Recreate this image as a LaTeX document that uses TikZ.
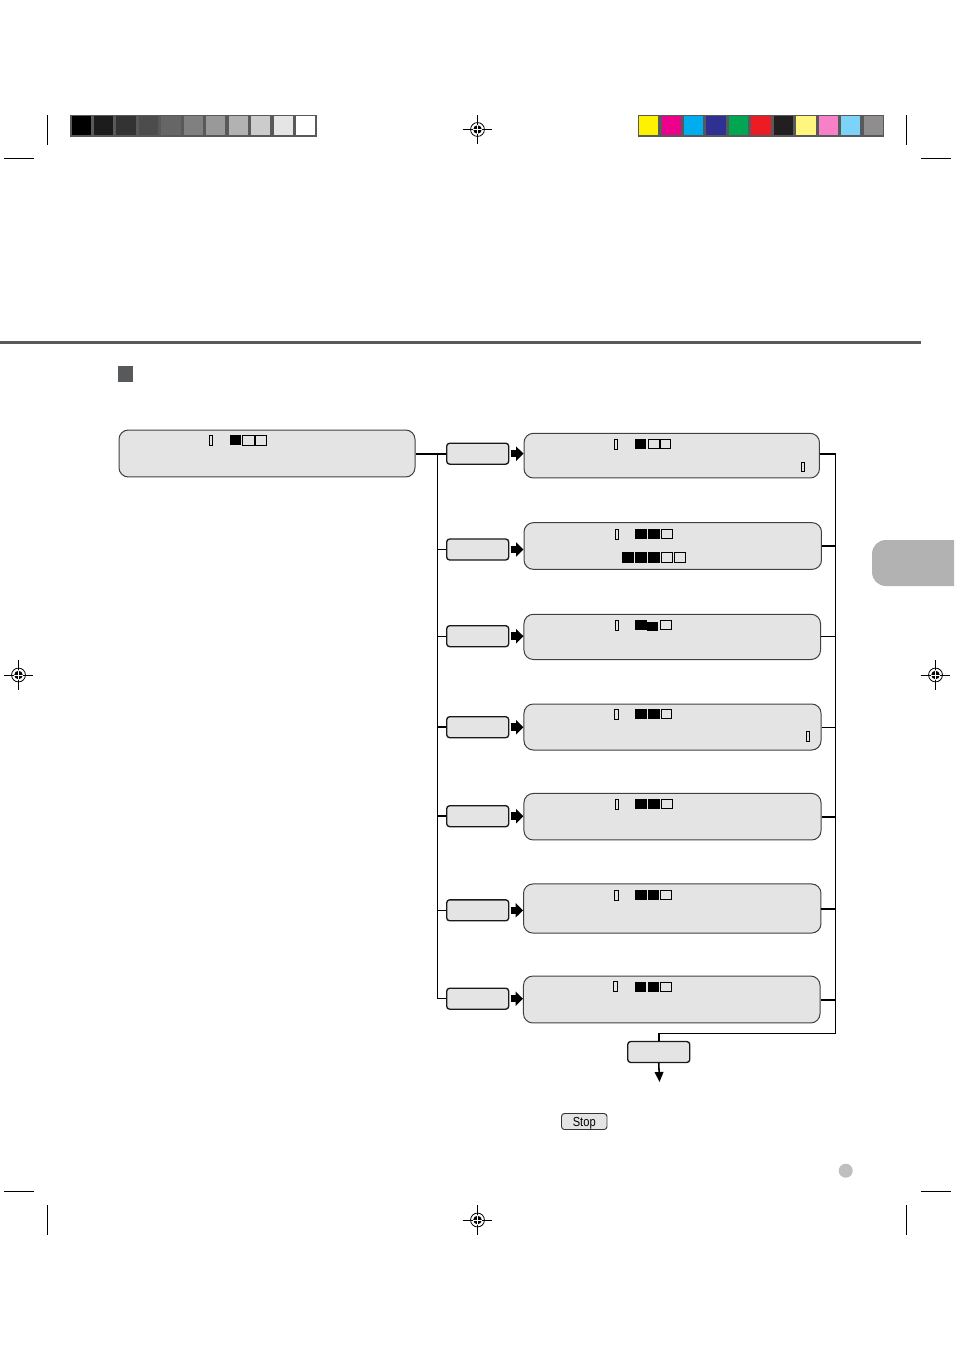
\documentclass[tikz,border=0pt]{standalone}
\usepackage{xcolor}
\usepackage{fontspec}
\usepackage{tikz}
\usetikzlibrary{arrows.meta}
\newfontfamily\keyfont[FakeStretch=0.85]{Liberation Sans}
\definecolor{frameGray}{HTML}{58595B}
\definecolor{panelGray}{HTML}{E4E4E4}
\definecolor{tabGray}{HTML}{B2B2B2}
\tikzset{
  screen/.style={draw=black!75,line width=0.75pt,fill=panelGray,rounded corners=7pt,inner sep=0pt},
  keybox/.style={draw=black!90,line width=1pt,fill=panelGray,rounded corners=2.2pt,inner sep=0pt,minimum width=46.5pt,minimum height=15.7pt},
  thinlink/.style={line width=0.7pt},
  trunklink/.style={line width=1.15pt},
  thicklink/.style={line width=1.5pt},
  keyarrow/.style={line width=5.6pt,shorten <=1.5pt,-{Triangle[length=5.5pt,width=10.5pt]}},
  cropline/.style={line width=0.75pt},
  cellon/.style={fill=black},
  celloff/.style={draw=black,line width=0.5pt},
  barmark/.style={draw=black,line width=0.65pt},
  regmark/.pic={
    \draw [line width=0.6pt] (0,0) circle (5.2pt);
    \fill (0,0) circle (3.2pt);
    \draw [white,line width=0.5pt] (-3.2pt,0) -- (3.2pt,0) (0,-3.2pt) -- (0,3.2pt);
    \draw [line width=0.7pt] (-11.2pt,0) -- (-3.4pt,0) (3.4pt,0) -- (11.2pt,0) (0,-11.2pt) -- (0,-3.4pt) (0,3.4pt) -- (0,11.2pt);
  }
}
\begin{document}
\begin{tikzpicture}[x=0.75pt,y=0.75pt,yscale=-1,xscale=1]
\useasboundingbox (0,0) rectangle (954,1351);
%Gray Scale Bar
\fill [frameGray] (70,114.7) rectangle (317,136.7);
\fill [black!100] (72,116) rectangle (91,135);
\fill [black!89] (94,116) rectangle (113,135);
\fill [black!80] (116,116) rectangle (136,135);
\fill [black!70] (139,116) rectangle (158,135);
\fill [black!60] (161,116) rectangle (181,135);
\fill [black!50] (184,116) rectangle (203,135);
\fill [black!40] (206,116) rectangle (225,135);
\fill [black!30] (229,116) rectangle (248,135);
\fill [black!20] (251,116) rectangle (270,135);
\fill [black!10] (274,116) rectangle (293,135);
\fill [white] (296,116) rectangle (315,135);
%Color Bar
\fill [frameGray] (638,114.7) rectangle (884,136.7);
\fill [fill={rgb,255:red,255;green,242;blue,0}] (639,116) rectangle (658,135);
\fill [fill={rgb,255:red,236;green,0;blue,140}] (662,116) rectangle (681,135);
\fill [fill={rgb,255:red,0;green,174;blue,239}] (684,116) rectangle (703,135);
\fill [fill={rgb,255:red,46;green,49;blue,146}] (706,116) rectangle (726,135);
\fill [fill={rgb,255:red,0;green,166;blue,81}] (729,116) rectangle (748,135);
\fill [fill={rgb,255:red,237;green,28;blue,36}] (751,116) rectangle (771,135);
\fill [fill={rgb,255:red,35;green,31;blue,32}] (774,116) rectangle (793,135);
\fill [fill={rgb,255:red,255;green,246;blue,128}] (796,116) rectangle (816,135);
\fill [fill={rgb,255:red,247;green,128;blue,199}] (819,116) rectangle (838,135);
\fill [fill={rgb,255:red,125;green,211;blue,247}] (841,116) rectangle (860,135);
\fill [fill={rgb,255:red,143;green,141;blue,142}] (864,116) rectangle (883,135);
%Crop Marks
\draw [cropline] (47,115) -- (47,145);
\draw [cropline] (4,158.5) -- (34,158.5);
\draw [cropline] (906.5,115) -- (906.5,145);
\draw [cropline] (921,158.5) -- (951,158.5);
\draw [cropline] (4,1191) -- (34,1191);
\draw [cropline] (47,1205) -- (47,1235);
\draw [cropline] (921,1191) -- (951,1191);
\draw [cropline] (906.5,1205) -- (906.5,1235);
%Registration Marks
\pic at (477.5,129.5) {regmark};
\pic at (477.5,1220) {regmark};
\pic at (18.5,675) {regmark};
\pic at (935.5,675) {regmark};
%Page Furniture
\draw [frameGray,line width=2.8pt] (0,342.5) -- (921,342.5);
\fill [frameGray] (118,366) rectangle (133,382);
\fill [tabGray] (954,540) -- (886,540) .. controls (878,540) and (872,546) .. (872,554) -- (872,572) .. controls (872,580) and (878,586) .. (886,586) -- (954,586) -- cycle;
\fill [black!25] (845.7,1170.7) circle (7);
% Screens
\node (start) [screen,minimum width=222pt,minimum height=35.2pt] at (267,453.5) {};
\node (scrA) [screen,minimum width=221.6pt,minimum height=33.5pt] at (671.75,455.65) {};
\node (scrB) [screen,minimum width=223.1pt,minimum height=35pt] at (672.75,546) {};
\node (scrC) [screen,minimum width=222.4pt,minimum height=33.9pt] at (672.25,636.9) {};
\node (scrD) [screen,minimum width=222.8pt,minimum height=34.5pt] at (672.5,727) {};
\node (scrE) [screen,minimum width=222.8pt,minimum height=34.9pt] at (672.5,816.7) {};
\node (scrF) [screen,minimum width=223.1pt,minimum height=36.8pt] at (672.25,908.5) {};
\node (scrG) [screen,minimum width=222.4pt,minimum height=35.2pt] at (671.75,999.5) {};
% Keys
\node (keyA) [keybox] at (477.7,453.7) {};
\node (keyB) [keybox] at (477.7,549.5) {};
\node (keyC) [keybox] at (477.7,636.2) {};
\node (keyD) [keybox] at (477.7,727.2) {};
\node (keyE) [keybox] at (477.7,816.2) {};
\node (keyF) [keybox] at (477.7,910.3) {};
\node (keyG) [keybox] at (477.7,998.7) {};
\node (keyExit) [keybox] at (658.75,1052) {};
\node (stopKey) [keybox,draw=black!80,line width=0.7pt,minimum width=34.1pt,minimum height=12pt,text height=7pt,text depth=0pt,font=\keyfont\fontsize{9.8}{10}\selectfont] at (584.25,1121.5) {Stop};
%Trunk Lines
\coordinate (trunkLeft) at (437.5,454);
\coordinate (trunkRight) at (835.5,454);
\coordinate (bendRight) at (835.5,1033.5);
\coordinate (exitEnd) at (659.5,1082);
\draw [thicklink] (start.east) -- (start.east -| keyA.west);
\draw [trunklink] (trunkLeft) |- (keyG.west);
\draw [trunklink] (trunkRight) -- (bendRight) -| (keyExit.north);
\draw [trunklink,-{Triangle[length=7.5pt,width=6.5pt]}] (keyExit.south) -- (exitEnd);
%Branches Left
\draw [trunklink] (keyB.west) -- (keyB.west -| trunkLeft);
\draw [thinlink] (keyC.west) -- (keyC.west -| trunkLeft);
\draw [trunklink] (keyD.west) -- (keyD.west -| trunkLeft);
\draw [thicklink] (keyE.west) -- (keyE.west -| trunkLeft);
\draw [trunklink] (keyF.west) -- (keyF.west -| trunkLeft);
%Branches Right
\draw [thicklink] (scrA.east |- trunkRight) -- (trunkRight);
\draw [thicklink] (scrB.east) -- (scrB.east -| trunkRight);
\draw [thinlink] (scrC.east) -- (scrC.east -| trunkRight);
\draw [thinlink] (scrD.east) -- (scrD.east -| trunkRight);
\draw [thicklink] (scrE.east) -- (scrE.east -| trunkRight);
\draw [thicklink] (scrF.east) -- (scrF.east -| trunkRight);
\draw [thicklink] (scrG.east) -- (scrG.east -| trunkRight);
%Key Arrows
\draw [keyarrow] (keyA.east) -- (keyA.east -| scrA.west);
\draw [keyarrow] (keyB.east) -- (keyB.east -| scrB.west);
\draw [keyarrow] (keyC.east) -- (keyC.east -| scrC.west);
\draw [keyarrow] (keyD.east) -- (keyD.east -| scrD.west);
\draw [keyarrow] (keyE.east) -- (keyE.east -| scrE.west);
\draw [keyarrow] (keyF.east) -- (keyF.east -| scrF.west);
\draw [keyarrow] (keyG.east) -- (keyG.east -| scrG.west);
%Level Marks start
\draw [barmark] (209.5,435.5) rectangle (212.5,445.5);
\fill [cellon] (230,435.3) rectangle (241,445.3);
\draw [celloff] (242.5,435.5) rectangle (254,445);
\draw [celloff] (255.5,435.5) rectangle (266.5,445);
%Level Marks A
\draw [barmark] (614,439.5) rectangle (617.5,449);
\fill [cellon] (635,439) rectangle (646,449);
\draw [celloff] (648,439.5) rectangle (659,448.5);
\draw [celloff] (660.5,439.5) rectangle (670.5,448.5);
\draw [barmark] (801,462.5) rectangle (804.5,471.5);
%Level Marks B
\draw [barmark] (615,529.5) rectangle (618,539);
\fill [cellon] (635,529) rectangle (647,539);
\fill [cellon] (648,529) rectangle (660,539);
\draw [celloff] (661.5,529.5) rectangle (672,538.5);
\fill [cellon] (622,552) rectangle (633.5,563);
\fill [cellon] (635,552) rectangle (647,563);
\fill [cellon] (648,552) rectangle (660,563);
\draw [celloff] (661.5,552.5) rectangle (672,562.5);
\draw [celloff] (674.5,552.5) rectangle (685,562.5);
%Level Marks C
\draw [barmark] (615,620.5) rectangle (618,630);
\fill [cellon] (635,620) rectangle (647,630);
\fill [cellon] (647,622) rectangle (658,631);
\draw [celloff] (660.5,620.5) rectangle (671.5,629.5);
%Level Marks D
\draw [barmark] (614.5,709.5) rectangle (618,719);
\fill [cellon] (635,709) rectangle (647,719);
\fill [cellon] (648,709) rectangle (660,719);
\draw [celloff] (661.5,709.5) rectangle (671.5,718.5);
\draw [barmark] (806.5,731) rectangle (809.5,741.5);
%Level Marks E
\draw [barmark] (615,799.5) rectangle (618,809);
\fill [cellon] (635,799) rectangle (647,809);
\fill [cellon] (648,799) rectangle (660,809);
\draw [celloff] (661.5,799.5) rectangle (672.5,808.5);
%Level Marks F
\draw [barmark] (614,890) rectangle (618,900);
\fill [cellon] (635,890) rectangle (647,900);
\fill [cellon] (648,890) rectangle (659,900);
\draw [celloff] (660.5,890.5) rectangle (671.5,899.5);
%Level Marks G
\draw [barmark] (613.8,981.5) rectangle (617.5,991.5);
\fill [cellon] (635,981.5) rectangle (646,992);
\fill [cellon] (648,981.5) rectangle (659,992);
\draw [celloff] (660.5,982) rectangle (671.5,991.5);
\end{tikzpicture}
\end{document}
